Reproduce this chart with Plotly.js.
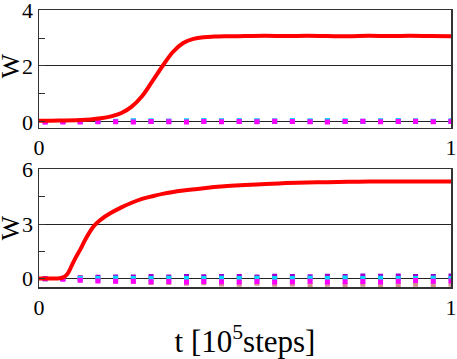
<!DOCTYPE html>
<html>
<head>
<meta charset="utf-8">
<script src="https://cdn.plot.ly/plotly-3.0.1.min.js"></script>
<style>
  html, body { margin: 0; padding: 0; background: #fff; }
  #chart { width: 457px; height: 359px; }
</style>
</head>
<body>
<div id="chart"></div>
<script>
// red curves (W vs t)
const tTop = [0, 0.05, 0.1, 0.125, 0.15, 0.175, 0.2, 0.225, 0.25, 0.275, 0.3, 0.325, 0.35, 0.375, 0.4, 0.425, 0.45, 0.5, 0.55, 0.6, 0.65, 0.7, 0.75, 0.8, 0.85, 0.9, 0.95, 1.0];
const wTop = [0.04, 0.05, 0.07, 0.09, 0.13, 0.2, 0.32, 0.55, 0.92, 1.45, 2.0, 2.5, 2.82, 2.97, 3.03, 3.05, 3.06, 3.07, 3.08, 3.07, 3.08, 3.07, 3.06, 3.08, 3.07, 3.08, 3.07, 3.06];

const tBot = [0, 0.025, 0.05, 0.06, 0.07, 0.08, 0.09, 0.1, 0.11, 0.12, 0.13, 0.14, 0.15, 0.175, 0.2, 0.225, 0.25, 0.275, 0.3, 0.35, 0.4, 0.45, 0.5, 0.55, 0.6, 0.65, 0.7, 0.75, 0.8, 0.85, 0.9, 0.95, 1.0];
const wBot = [0.02, 0.02, 0.03, 0.08, 0.3, 0.75, 1.2, 1.6, 2.05, 2.45, 2.8, 3.05, 3.25, 3.62, 3.92, 4.17, 4.38, 4.53, 4.66, 4.84, 4.97, 5.07, 5.14, 5.2, 5.25, 5.28, 5.3, 5.32, 5.33, 5.33, 5.34, 5.34, 5.33];

// sampled points near zero
const tMk = [0.015, 0.058, 0.1, 0.143, 0.186, 0.229, 0.272, 0.315, 0.358, 0.4, 0.443, 0.486, 0.529, 0.572, 0.615, 0.658, 0.7, 0.743, 0.786, 0.829, 0.872, 0.914, 0.957, 1.0];

const topCyan    = [0.02, 0.02, 0.03, 0.03, 0.03, 0.04, 0.04, 0.03, 0.04, 0.05, 0.04, 0.05, 0.04, 0.04, 0.05, 0.04, 0.05, 0.04, 0.03, 0.04, 0.05, 0.04, 0.03, 0.04];
const topPurple  = [0.01, 0.02, 0.02, 0.03, 0.02, 0.03, 0.02, 0.03, 0.02, 0.03, 0.03, 0.02, 0.03, 0.02, 0.03, 0.02, 0.03, 0.02, 0.02, 0.03, 0.03, 0.02, 0.02, 0.03];
const topMagenta = [0.0, 0.0, 0.0, 0.01, 0.01, 0.0, 0.02, 0.01, 0.0, 0.02, 0.01, 0.02, 0.01, 0.03, 0.02, 0.01, 0.0, 0.02, 0.03, 0.01, 0.02, 0.03, 0.01, 0.02];

const botBrown   = [0.0, 0.0, -0.05, -0.1, -0.12, -0.15, -0.2, -0.2, -0.25, -0.22, -0.28, -0.3, -0.25, -0.3, -0.28, -0.32, -0.3, -0.33, -0.3, -0.35, -0.32, -0.3, -0.33, -0.3];
const botPurple  = [0.02, 0.03, 0.06, 0.08, 0.1, 0.1, 0.12, 0.1, 0.12, 0.11, 0.13, 0.12, 0.1, 0.14, 0.12, 0.11, 0.14, 0.13, 0.15, 0.14, 0.16, 0.12, 0.13, 0.15];
const botCyan    = [0.0, 0.01, 0.02, 0.02, 0.03, 0.01, 0.02, 0.03, 0.02, 0.01, 0.03, 0.02, 0.03, 0.01, 0.02, 0.03, 0.02, 0.04, 0.02, 0.03, 0.01, 0.02, 0.03, 0.02];
const botMagenta = [0.0, -0.02, -0.08, -0.12, -0.14, -0.13, -0.16, -0.15, -0.17, -0.15, -0.16, -0.18, -0.15, -0.17, -0.16, -0.14, -0.17, -0.16, -0.15, -0.17, -0.13, -0.1, -0.14, -0.12];

const serif = 'Liberation Serif, Times New Roman, serif';

function markers(y, color, xa, ya) {
    return {
        x: tMk, y: y, xaxis: xa, yaxis: ya, mode: 'markers', type: 'scatter',
        marker: { symbol: 'square', size: 5, color: color },
        hoverinfo: 'skip'
    };
}

const traces = [
    markers(topPurple, '#9400d3', 'x', 'y'),
    markers(topCyan, '#00d8ff', 'x', 'y'),
    markers(topMagenta, '#ff00ff', 'x', 'y'),
    { x: tTop, y: wTop, xaxis: 'x', yaxis: 'y', mode: 'lines', line: { color: '#ff0000', width: 4, shape: 'spline' } },

    markers(botBrown, '#d09090', 'x2', 'y2'),
    markers(botPurple, '#9400d3', 'x2', 'y2'),
    markers(botCyan, '#00d8ff', 'x2', 'y2'),
    markers(botMagenta, '#ff00ff', 'x2', 'y2'),
    { x: tBot, y: wBot, xaxis: 'x2', yaxis: 'y2', mode: 'lines', line: { color: '#ff0000', width: 4, shape: 'spline' } }
];

const frame = {
    showline: true, linecolor: '#333', linewidth: 1.5, mirror: true,
    zeroline: false, fixedrange: true, automargin: false,
    ticklabeloverflow: 'allow',
    tickfont: { family: serif, size: 22, color: '#000' }
};

function xAxis(anchor) {
    return Object.assign({}, frame, {
        anchor: anchor, range: [0, 1], tickvals: [0, 1], ticks: '', showgrid: false
    });
}

function yAxis(anchor, domain, range, major, minor) {
    return Object.assign({}, frame, {
        anchor: anchor, domain: domain, range: range,
        tickvals: major, ticks: 'inside', ticklen: 6, tickcolor: '#333',
        showgrid: true, gridcolor: '#222', gridwidth: 1,
        minor: { tickvals: minor, ticks: 'inside', ticklen: 6, tickcolor: '#333', showgrid: false }
    });
}

// "W" labels, placed by hand left of the tick numbers
function wLabel(y) {
    return {
        text: 'W', xref: 'paper', yref: 'paper', x: -0.068, y: y,
        xanchor: 'center', yanchor: 'middle', textangle: -90, showarrow: false,
        height: 20, borderpad: 0,
        font: { family: serif, size: 26, color: '#000' }
    };
}

const layout = {
    width: 457, height: 359,
    margin: { l: 39, r: 6, t: 10, b: 72 },
    paper_bgcolor: '#fff', plot_bgcolor: '#fff',
    showlegend: false,
    xaxis: xAxis('y'),
    yaxis: yAxis('x', [0.5755, 1], [-0.2, 4], [0, 2, 4], [1, 3]),
    xaxis2: Object.assign(xAxis('y2'), {
        title: { text: 't [10<sup>5</sup>steps]', font: { family: serif, size: 31, color: '#000' } }
    }),
    yaxis2: yAxis('x2', [0, 0.4245], [-0.45, 6], [0, 3, 6], [1.5, 4.5]),
    annotations: [wLabel(0.80), wLabel(0.215)]
};

Plotly.newPlot('chart', traces, layout, { staticPlot: true, displayModeBar: false });
</script>
</body>
</html>
